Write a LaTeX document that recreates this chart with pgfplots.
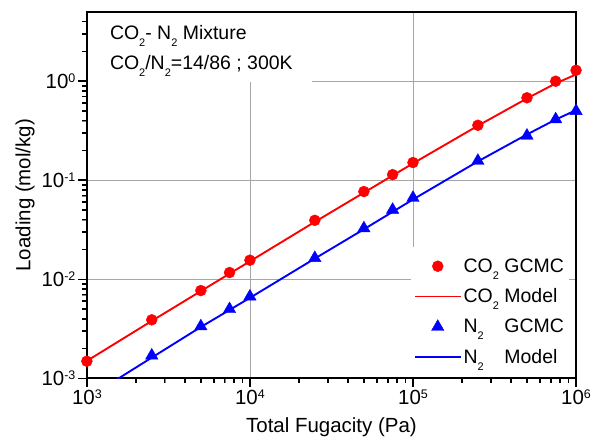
\documentclass[border=0pt]{standalone}
\usepackage{fontspec}
\setmainfont{Liberation Sans}
\usepackage{pgfplots}
\pgfplotsset{compat=1.18}

% small raised / lowered digits at a fixed size
\newcommand{\sub}[1]{\raisebox{-7pt}{\fontsize{11}{11}\selectfont #1}}
\newcommand{\sups}[1]{\raisebox{6pt}{\fontsize{12.5}{12.5}\selectfont #1}}

\begin{document}
\begin{tikzpicture}
\begin{axis}[
  scale only axis, width=490pt, height=367pt,
  xmode=log, ymode=log,
  xmin=1e3, xmax=1e6, ymin=1e-3, ymax=5,
  xtick={1e3,1e4,1e5,1e6},
  xticklabels={10\sups{3},10\sups{4},10\sups{5},10\sups{6}},
  ytick={1e-3,1e-2,1e-1,1},
  yticklabels={10\sups{-3},10\sups{-2},10\sups{-1},10\sups{0}},
  tick pos=left, tick align=outside,
  major tick length=8pt, minor tick length=4.5pt,
  axis line style={line width=2pt},
  grid=major,
  major grid style={gray!70, line width=0.7pt},
  ticklabel style={font=\fontsize{20.5}{24}\selectfont},
  label style={font=\fontsize{20.5}{24}\selectfont},
  xlabel={Total Fugacity (Pa)},
  xlabel style={yshift=-6pt},
  ylabel={Loading (mol/kg)},
  legend style={at={(1,0)}, anchor=south east, xshift=-7pt, yshift=1.2pt,
    draw=none, fill=white, font=\fontsize{19.5}{23}\selectfont,
    row sep=11pt, inner xsep=3pt, inner ysep=10pt},
  legend cell align=left,
  legend image code/.code={\draw[mark repeat=2,mark phase=2,#1]
    plot coordinates {(0pt,0pt)(23pt,0pt)(46pt,0pt)};},
]
\addplot[only marks, mark=*, mark size=5.5pt, red] coordinates {
(1000,1.49e-3)(2500,3.9e-3)(5000,7.7e-3)(7500,0.0117)(10000,0.0156)
(25000,0.0394)(50000,0.0769)(75000,0.114)(100000,0.151)
(250000,0.359)(500000,0.68)(750000,1.0)(1000000,1.29)};
\addlegendentry{CO\sub{2} GCMC}
\addplot[red, line width=1.9pt, no marks] coordinates {
(1000,1.5e-3)(2500,3.8e-3)(5000,7.6e-3)(10000,0.0152)(25000,0.038)
(50000,0.075)(100000,0.148)(250000,0.355)(500000,0.67)(750000,0.95)
(1000000,1.17)};
\addlegendentry{CO\sub{2} Model}
\addplot[only marks, mark=triangle*, mark size=7.2pt, blue] coordinates {
(2500,1.7e-3)(5000,3.35e-3)(7500,5.0e-3)(10000,6.7e-3)(25000,0.0164)
(50000,0.0327)(75000,0.0503)(100000,0.0664)(250000,0.157)
(500000,0.282)(750000,0.412)(1000000,0.50)};
\addlegendentry{N\sub{2}\hphantom{O} GCMC}
\addplot[blue, line width=1.9pt, no marks] coordinates {
(1000,6.3e-4)(2500,1.62e-3)(5000,3.3e-3)(10000,6.5e-3)(25000,0.0162)
(50000,0.032)(100000,0.064)(250000,0.155)(500000,0.29)(750000,0.41)
(1000000,0.51)};
\addlegendentry{N\sub{2}\hphantom{O} Model}
\fill[white] ([shift={(1.2pt,-1.2pt)}]rel axis cs:0,1)
  rectangle ([shift={(226pt,-70pt)}]rel axis cs:0,1);
\node[anchor=north west, align=left, inner sep=0pt,
  font=\fontsize{19.5}{30}\selectfont]
  at ([shift={(23pt,-13pt)}]rel axis cs:0,1)
  {CO\sub{2}- N\sub{2} Mixture\\CO\sub{2}/N\sub{2}=14/86 ; 300K};
\end{axis}
% tick marks on the bottom and left edges (163.33pt per x decade, 99.217pt per y decade)
\begin{scope}[shift={(current axis.south west)}, line width=1.6pt, black]
  \foreach \e in {0,1,2,3} {
    \draw ({\e*163.3333pt},0pt) -- ++(0pt,-9pt);
    \draw (0pt,{\e*99.217pt}) -- ++(-9pt,0pt);
  }
  \foreach \e in {0,1,2} {
    \foreach \m in {2,...,9} {
      \draw ({(\e+log10(\m))*163.3333pt},0pt) -- ++(0pt,-5pt);
      \draw (0pt,{(\e+log10(\m))*99.217pt}) -- ++(-5pt,0pt);
    }
  }
  \foreach \m in {2,3,4} {
    \draw (0pt,{(3+log10(\m))*99.217pt}) -- ++(-5pt,0pt);
  }
\end{scope}
\path ([shift={(-87pt,-66pt)}]current axis.south west)
  rectangle ([shift={(20pt,12pt)}]current axis.north east);
\end{tikzpicture}
\end{document}
